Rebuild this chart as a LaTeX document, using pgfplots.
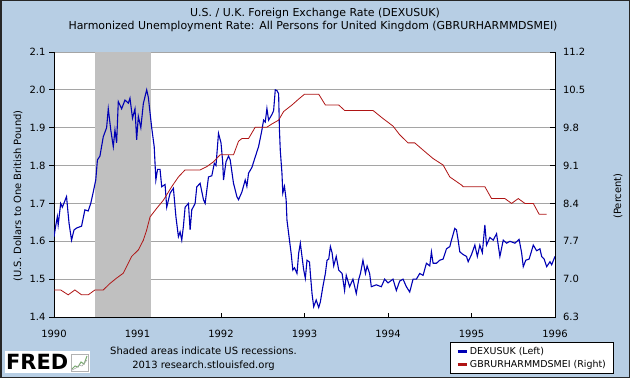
\documentclass[border=0pt]{standalone}
\usepackage{pgfplots}
\pgfplotsset{compat=1.18}
\usepackage{fontspec}
\setmainfont{DejaVu Sans}
\definecolor{bgblue}{RGB}{183,206,228}
\definecolor{recgray}{RGB}{192,192,192}
\definecolor{gridgray}{RGB}{165,165,165}
\definecolor{serblue}{RGB}{0,0,180}
\definecolor{serred}{RGB}{175,20,20}
\definecolor{icongreen}{RGB}{120,170,110}
\begin{document}
\begin{tikzpicture}[x=1bp,y=1bp]
\fill[bgblue] (0,0) rectangle (630,378);
\useasboundingbox (0,0) rectangle (630,378);
\draw[black!85, line width=1.5bp] (0.75,0.75) rectangle (629.25,377.25);
% titles
\node[font=\fontsize{11}{12}\selectfont] at (315,364.5) {U.S. / U.K. Foreign Exchange Rate (DEXUSUK)};
\node[font=\fontsize{11}{12}\selectfont] at (313,351.5) {Harmonized Unemployment Rate: All Persons for United Kingdom (GBRURHARMMDSMEI)};
% axis labels
\node[rotate=90, font=\fontsize{10}{12}\selectfont] at (18,182) {(U.S. Dollars to One British Pound)};
\node[rotate=90, font=\fontsize{10}{12}\selectfont] at (618,182) {(Percent)};
% footer
\node[font=\fontsize{10}{12}\selectfont] at (203.5,27) {Shaded areas indicate US recessions.};
\node[font=\fontsize{10}{12}\selectfont] at (203.5,12.3) {2013 research.stlouisfed.org};
\fill[white] (5,5) rectangle (90,27);
\node[font=\fontsize{21}{22}\selectfont\bfseries, anchor=west, inner sep=0pt] at (6,16) {FRED};
\draw[gray!60, line width=0.4bp] (71,7) rectangle (88,24);
\draw[icongreen, line width=1bp] (72,9) -- (75,12) -- (78,11) -- (81,16) -- (84,14) -- (87,22);
\draw[gray!70, line width=0.6bp] (72,8) -- (76,10) -- (79,13) -- (82,12) -- (87,18);

\begin{axis}[
  at={(54bp,61bp)}, anchor=south west,
  scale only axis, width=501bp, height=265bp,
  xmin=1990, xmax=1996, ymin=1.4, ymax=2.1,
  axis background/.style={fill=white},
  axis x line*=bottom, axis y line*=left,
  axis line style={black, line width=0.9bp},
  xtick={1990,1991,1992,1993,1994,1995,1996},
  xticklabels={1990,1991,1992,1993,1994,1995,1996},
  ytick={1.4,1.5,1.6,1.7,1.8,1.9,2.0,2.1},
  yticklabels={1.4,1.5,1.6,1.7,1.8,1.9,2.0,2.1},
  ymajorgrids, grid style={gridgray, line width=0.9bp},
  tick align=outside, major tick length=5bp,
  tick style={black, line width=0.9bp},
  xtick style={yshift=4bp},
  tick label style={font=\fontsize{10}{12}\selectfont},
  xticklabel style={yshift=-5bp},
  clip=true,
]
\addplot[draw=none, fill=recgray] coordinates {(1990.496,2.1) (1991.162,2.1)} \closedcycle;
\addplot[serblue, line width=1.1bp] table {
1990.00 1.612
1990.02 1.640
1990.04 1.665
1990.05 1.643
1990.08 1.700
1990.10 1.690
1990.15 1.718
1990.18 1.648
1990.21 1.603
1990.24 1.630
1990.27 1.635
1990.33 1.640
1990.37 1.683
1990.41 1.680
1990.44 1.700
1990.47 1.730
1990.50 1.762
1990.52 1.815
1990.55 1.825
1990.59 1.876
1990.63 1.900
1990.65 1.950
1990.68 1.894
1990.71 1.850
1990.73 1.894
1990.75 1.860
1990.77 1.969
1990.81 1.950
1990.85 1.973
1990.89 1.965
1990.91 1.978
1990.94 1.925
1990.97 1.950
1990.99 1.868
1991.01 1.930
1991.04 1.900
1991.07 1.964
1991.11 2.000
1991.13 1.980
1991.17 1.900
1991.20 1.850
1991.22 1.762
1991.24 1.790
1991.27 1.790
1991.29 1.744
1991.33 1.750
1991.35 1.690
1991.39 1.727
1991.43 1.740
1991.46 1.665
1991.49 1.612
1991.51 1.625
1991.53 1.603
1991.55 1.640
1991.57 1.690
1991.61 1.700
1991.63 1.630
1991.65 1.683
1991.69 1.700
1991.71 1.744
1991.75 1.753
1991.79 1.710
1991.81 1.700
1991.85 1.770
1991.89 1.773
1991.92 1.806
1991.94 1.800
1991.97 1.885
1992.00 1.860
1992.02 1.810
1992.03 1.762
1992.06 1.810
1992.09 1.825
1992.11 1.815
1992.15 1.753
1992.19 1.718
1992.21 1.710
1992.25 1.730
1992.29 1.762
1992.31 1.745
1992.33 1.780
1992.37 1.795
1992.41 1.823
1992.45 1.850
1992.49 1.894
1992.51 1.920
1992.53 1.915
1992.55 1.951
1992.57 1.920
1992.61 1.935
1992.63 1.945
1992.65 2.000
1992.67 1.998
1992.69 1.990
1992.70 1.894
1992.71 1.840
1992.73 1.780
1992.74 1.727
1992.76 1.745
1992.78 1.710
1992.79 1.656
1992.82 1.603
1992.84 1.568
1992.86 1.524
1992.88 1.530
1992.91 1.515
1992.93 1.568
1992.95 1.595
1992.97 1.560
1992.99 1.525
1993.01 1.502
1993.03 1.550
1993.06 1.545
1993.07 1.515
1993.09 1.462
1993.11 1.427
1993.14 1.445
1993.17 1.425
1993.19 1.440
1993.22 1.480
1993.25 1.515
1993.27 1.550
1993.29 1.553
1993.31 1.586
1993.33 1.570
1993.35 1.535
1993.38 1.560
1993.41 1.524
1993.45 1.515
1993.48 1.470
1993.50 1.510
1993.54 1.480
1993.58 1.500
1993.62 1.462
1993.65 1.500
1993.67 1.515
1993.70 1.550
1993.73 1.515
1993.75 1.535
1993.78 1.515
1993.80 1.480
1993.86 1.485
1993.92 1.480
1993.96 1.500
1994.00 1.490
1994.06 1.500
1994.10 1.470
1994.14 1.495
1994.18 1.500
1994.22 1.480
1994.26 1.466
1994.30 1.500
1994.34 1.500
1994.38 1.515
1994.42 1.510
1994.46 1.542
1994.50 1.535
1994.52 1.572
1994.54 1.542
1994.58 1.542
1994.62 1.550
1994.66 1.553
1994.70 1.580
1994.74 1.586
1994.76 1.603
1994.80 1.634
1994.82 1.630
1994.84 1.603
1994.86 1.572
1994.90 1.565
1994.94 1.560
1994.96 1.546
1995.00 1.565
1995.04 1.590
1995.07 1.560
1995.10 1.590
1995.13 1.570
1995.16 1.643
1995.18 1.590
1995.22 1.610
1995.26 1.603
1995.30 1.620
1995.34 1.560
1995.38 1.603
1995.42 1.595
1995.46 1.600
1995.52 1.595
1995.57 1.605
1995.60 1.570
1995.62 1.533
1995.65 1.550
1995.69 1.553
1995.72 1.575
1995.74 1.590
1995.78 1.575
1995.82 1.580
1995.84 1.560
1995.87 1.553
1995.90 1.533
1995.94 1.546
1995.96 1.538
1996.00 1.560
};
\end{axis}

\begin{axis}[
  at={(54bp,61bp)}, anchor=south west,
  scale only axis, width=501bp, height=265bp,
  xmin=1990, xmax=1996, ymin=6.3, ymax=11.2,
  axis x line=none, axis y line*=right,
  axis line style={black, line width=0.9bp},
  ytick={6.3,7.0,7.7,8.4,9.1,9.8,10.5,11.2},
  yticklabels={6.3,7.0,7.7,8.4,9.1,9.8,10.5,11.2},
  tick align=inside, major tick length=5bp,
  tick style={black, line width=0.9bp},
  tick label style={font=\fontsize{10}{12}\selectfont},
  yticklabel style={xshift=4.5bp},
  legend style={at={(axis description cs:0.7904,-0.0943)}, anchor=north west,
    draw=black, fill=white, line width=0.9bp, font=\fontsize{9.5}{11.5}\selectfont,
    inner xsep=6bp, inner ysep=2.5bp, row sep=0.5bp, cells={anchor=west}},
  legend image code/.code={\draw[#1, line width=2.5bp] (0bp,0bp) -- (9bp,0bp);},
]
\addlegendimage{serblue}
\addlegendentry{DEXUSUK (Left)}
\addplot[serred, line width=0.8bp] table {
1990.00 6.80
1990.08 6.80
1990.17 6.71
1990.25 6.80
1990.33 6.71
1990.41 6.71
1990.49 6.80
1990.59 6.80
1990.67 6.92
1990.75 7.02
1990.83 7.11
1990.93 7.42
1991.01 7.54
1991.07 7.72
1991.11 7.91
1991.15 8.15
1991.23 8.31
1991.31 8.46
1991.41 8.71
1991.49 8.89
1991.57 9.02
1991.75 9.02
1991.83 9.08
1991.91 9.17
1991.99 9.30
1992.15 9.30
1992.21 9.55
1992.25 9.60
1992.33 9.60
1992.41 9.81
1992.55 9.81
1992.61 9.87
1992.69 9.94
1992.75 10.10
1992.85 10.22
1992.93 10.33
1993.00 10.42
1993.17 10.42
1993.25 10.22
1993.41 10.22
1993.48 10.12
1993.82 10.12
1993.94 9.97
1994.06 9.83
1994.14 9.67
1994.24 9.52
1994.32 9.52
1994.44 9.36
1994.54 9.23
1994.66 9.11
1994.74 8.89
1994.88 8.74
1994.90 8.71
1995.16 8.71
1995.24 8.49
1995.40 8.49
1995.48 8.40
1995.56 8.49
1995.64 8.40
1995.74 8.40
1995.81 8.20
1995.90 8.20
};
\addlegendentry{GBRURHARMMDSMEI (Right)}
\end{axis}
\end{tikzpicture}
\end{document}
